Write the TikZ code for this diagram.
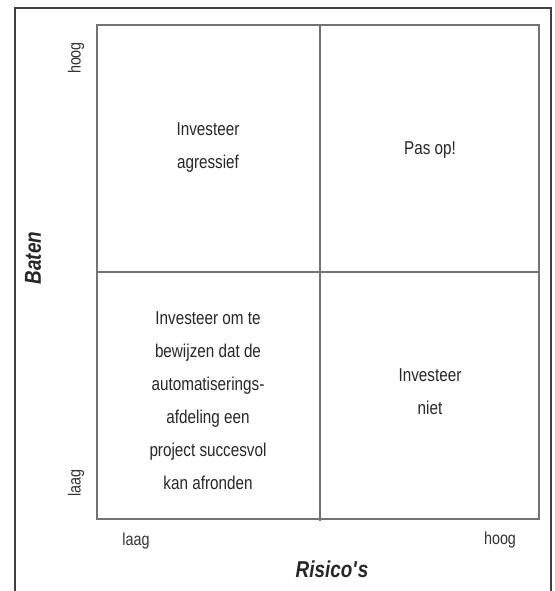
\documentclass[tikz,border=0pt]{standalone}
\usepackage{fontspec}
\setmainfont{Liberation Sans}[FakeStretch=0.82]
\begin{document}
\begin{tikzpicture}[x=1pt,y=-1pt,
  frame/.style={draw=black!75,line width=1.2pt},
  grid/.style={draw=black!55,line width=1.1pt},
  cell/.style={align=center,text=black!85,font=\fontsize{18.6}{33}\selectfont,inner sep=0pt},
  tick/.style={text=black!80,font=\fontsize{17.5}{19}\selectfont,inner sep=0pt},
  axis/.style={text=black!85,font=\fontsize{23}{26}\selectfont\bfseries\itshape,inner sep=0pt}]
\useasboundingbox (0,0) rectangle (554,591);
% outer frame, open at the bottom
\draw[frame] (15,600) -- (15,8) -- (551,8) -- (551,600);
% quadrant grid
\coordinate (tl) at (97,25);
\coordinate (br) at (539,519);
\draw[grid] (tl) rectangle (br);
\coordinate (vt) at (320,25);
\coordinate (vb) at (320,521);
\coordinate (hl) at (97,272);
\coordinate (hr) at (539,272);
\draw[grid] (vt) -- (vb);
\draw[grid] (hl) -- (hr);
% quadrant texts
\node[cell] (q1) at (208,148) {Investeer\\agressief};
\node[cell] (q2) at (430,150) {Pas op!};
\node[cell] (q3) at (208,401) {Investeer om te\\bewijzen dat de\\automatiserings-\\afdeling een\\project succesvol\\kan afronden};
\node[cell] (q4) at (430,392) {Investeer\\niet};
% axis ticks
\node[tick,rotate=90] (yh) at (76,58) {hoog};
\node[tick,rotate=90] (yl) at (76,483) {laag};
\node[tick] (xl) at (136,541) {laag};
\node[tick] (xh) at (500,540) {hoog};
% axis titles
\node[axis,rotate=90] (yt) at (33,258) {Baten};
\node[axis] (xt) at (332,569) {Risico\textquotesingle s};
\end{tikzpicture}
\end{document}
